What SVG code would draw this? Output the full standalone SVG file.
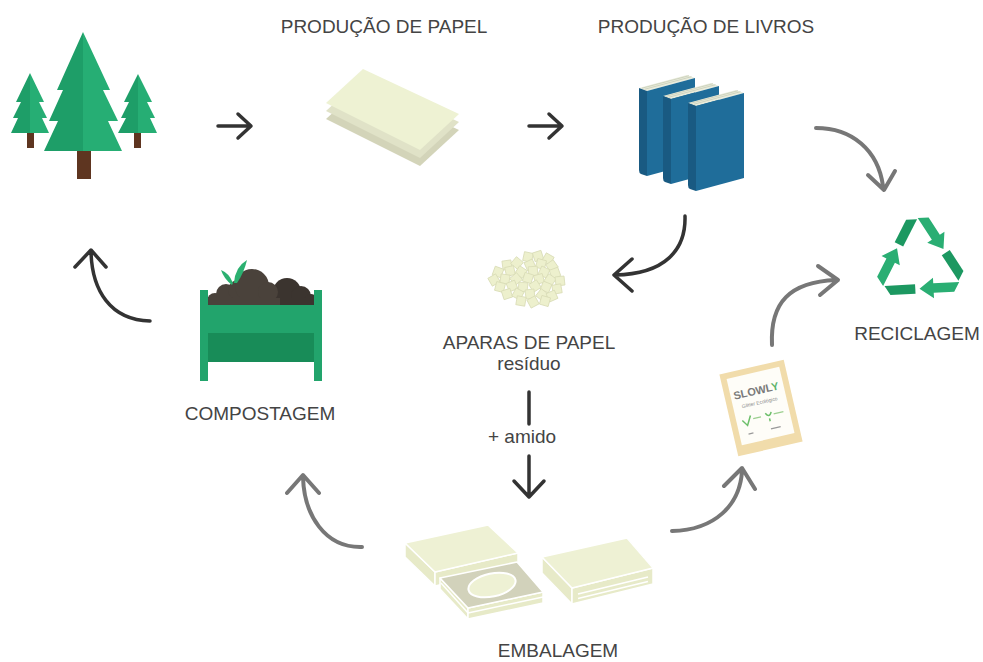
<svg xmlns="http://www.w3.org/2000/svg" xmlns:xlink="http://www.w3.org/1999/xlink" width="983" height="662" viewBox="0 0 983 662">
  <style>
    .lbl { font-family: "Liberation Sans", Arial, sans-serif; font-size: 19px; fill: #444; text-anchor: middle; }
    .arr-dark { fill: none; stroke: #333; stroke-width: 3.5; stroke-linecap: round; stroke-linejoin: round; }
    .arr-grey { fill: none; stroke: #777; stroke-width: 4; stroke-linecap: round; stroke-linejoin: round; }
    .tree-a { fill: #1e9e68; }
    .tree-b { fill: #26ae74; }
    .trunk { fill: #5e3520; }
    .chip { fill: #edf0cd; stroke: #d9dcb6; stroke-width: 0.8; }
    .box-top { fill: #eef1d4; stroke: #fff; stroke-width: 1.5; stroke-linejoin: round; }
    .box-side { fill: #e7eac8; stroke: #fff; stroke-width: 1.5; stroke-linejoin: round; }
    .rc-light { fill: #2aae73; }
    .rc-dark { fill: #1c9861; }
    .soil { fill: #4a423b; }
    .soil-d { fill: #3b342f; }
  </style>
  <defs>
    <!-- one standing book: top of spine at the origin -->
    <g id="book">
      <polygon points="0,0 48,-13 56,-10 8,3" fill="#e9ecdc"/>
      <line x1="3" y1="0.2" x2="50" y2="-12.3" stroke="#c8cdb8" stroke-width="0.8"/>
      <line x1="5.5" y1="1.3" x2="52.5" y2="-11.3" stroke="#c8cdb8" stroke-width="0.8"/>
      <path d="M0,0 L8,3 L8,88 L2,86 Q0,85 0,82 Z" fill="#195a82"/>
      <polygon points="8,3 56,-10 56,75 8,88" fill="#1f6d9a"/>
    </g>
    <!-- one folded arrow of the recycling sign, at the top corner -->
    <g id="rc-unit">
      <polygon class="rc-light" points="0,-44 10.97,-44 21.23,-26.23 25.99,-28.98 24.11,-11.73 8.24,-18.73 13,-21.48"/>
      <polygon class="rc-dark" points="-0.7,-42.8 -11.66,-42.8 -24.23,-21.04 -16,-16.29"/>
    </g>
    <rect id="chip" x="-4.5" y="-4.5" width="9" height="9" class="chip"/>
    <clipPath id="soil-clip">
      <rect x="207" y="250" width="107" height="56"/>
    </clipPath>
  </defs>

  <!-- forest -->
  <g id="forest">
    <rect class="trunk" x="77" y="150" width="14" height="29"/>
    <polygon class="tree-a" points="83,32 57,90 63,90 49,121 58,121 44,151 83,151"/>
    <polygon class="tree-b" points="83,32 110,90 103,90 118,121 108,121 122,151 83,151"/>
    <rect class="trunk" x="27" y="132" width="7" height="16"/>
    <polygon class="tree-a" points="30,73 16,102 21,102 13,118 18,118 11,133 30,133"/>
    <polygon class="tree-b" points="30,73 44,102 39,102 47,118 42,118 49,133 30,133"/>
    <rect class="trunk" x="134" y="132" width="7" height="16"/>
    <polygon class="tree-a" points="138,74 124,102 129,102 121,118 126,118 118,133 138,133"/>
    <polygon class="tree-b" points="138,74 152,102 147,102 155,118 150,118 157,133 138,133"/>
  </g>

  <!-- paper production -->
  <g id="paper">
    <text class="lbl" x="384" y="33">PRODUÇÃO DE PAPEL</text>
    <polygon points="326,119 363,85 459,130 420,166" fill="#d3d4b9"/>
    <polygon points="326,111 363,77 459,122 420,158" fill="#e0e2c7"/>
    <polygon points="326,103 363,69 459,114 420,150" fill="#eef2d3"/>
  </g>

  <!-- book production -->
  <g id="books">
    <text class="lbl" x="706" y="33">PRODUÇÃO DE LIVROS</text>
    <use xlink:href="#book" transform="translate(639,88)"/>
    <use xlink:href="#book" transform="translate(663,96)"/>
    <use xlink:href="#book" transform="translate(688,103)"/>
  </g>

  <!-- recycling -->
  <g id="recycling">
    <g transform="translate(920,262) rotate(-3)">
      <use xlink:href="#rc-unit"/>
      <use xlink:href="#rc-unit" transform="rotate(120)"/>
      <use xlink:href="#rc-unit" transform="rotate(240)"/>
    </g>
    <text class="lbl" x="917" y="340">RECICLAGEM</text>
  </g>

  <!-- paper trimmings -->
  <g id="trimmings">
    <use xlink:href="#chip" transform="translate(528,257) rotate(12)"/>
    <use xlink:href="#chip" transform="translate(538,256) rotate(-18)"/>
    <use xlink:href="#chip" transform="translate(548,259) rotate(30)"/>
    <use xlink:href="#chip" transform="translate(507,265) rotate(-8)"/>
    <use xlink:href="#chip" transform="translate(517,263) rotate(40)"/>
    <use xlink:href="#chip" transform="translate(530,265) rotate(-25)"/>
    <use xlink:href="#chip" transform="translate(541,264) rotate(15)"/>
    <use xlink:href="#chip" transform="translate(552,266) rotate(-35)"/>
    <use xlink:href="#chip" transform="translate(498,272) rotate(20)"/>
    <use xlink:href="#chip" transform="translate(510,271) rotate(-12)"/>
    <use xlink:href="#chip" transform="translate(521,272) rotate(33)"/>
    <use xlink:href="#chip" transform="translate(533,271) rotate(-4)"/>
    <use xlink:href="#chip" transform="translate(544,272) rotate(25)"/>
    <use xlink:href="#chip" transform="translate(555,273) rotate(-20)"/>
    <use xlink:href="#chip" transform="translate(494,280) rotate(-30)"/>
    <use xlink:href="#chip" transform="translate(505,279) rotate(8)"/>
    <use xlink:href="#chip" transform="translate(516,279) rotate(-40)"/>
    <use xlink:href="#chip" transform="translate(528,278) rotate(18)"/>
    <use xlink:href="#chip" transform="translate(539,279) rotate(-15)"/>
    <use xlink:href="#chip" transform="translate(550,280) rotate(35)"/>
    <use xlink:href="#chip" transform="translate(560,281) rotate(-6)"/>
    <use xlink:href="#chip" transform="translate(500,287) rotate(14)"/>
    <use xlink:href="#chip" transform="translate(512,286) rotate(-22)"/>
    <use xlink:href="#chip" transform="translate(523,287) rotate(5)"/>
    <use xlink:href="#chip" transform="translate(535,286) rotate(-33)"/>
    <use xlink:href="#chip" transform="translate(546,287) rotate(22)"/>
    <use xlink:href="#chip" transform="translate(557,289) rotate(-10)"/>
    <use xlink:href="#chip" transform="translate(507,294) rotate(-18)"/>
    <use xlink:href="#chip" transform="translate(518,294) rotate(28)"/>
    <use xlink:href="#chip" transform="translate(530,294) rotate(-7)"/>
    <use xlink:href="#chip" transform="translate(542,295) rotate(38)"/>
    <use xlink:href="#chip" transform="translate(552,296) rotate(-24)"/>
    <use xlink:href="#chip" transform="translate(521,301) rotate(10)"/>
    <use xlink:href="#chip" transform="translate(533,302) rotate(-28)"/>
    <use xlink:href="#chip" transform="translate(545,301) rotate(16)"/>
    <text class="lbl" x="529" y="349">APARAS DE PAPEL</text>
    <text class="lbl" x="529" y="370">resíduo</text>
  </g>

  <!-- compost bin -->
  <g id="compost">
    <g clip-path="url(#soil-clip)">
      <circle class="soil-d" cx="287" cy="292" r="14"/>
      <circle class="soil-d" cx="301" cy="296" r="10"/>
      <circle class="soil-d" cx="311" cy="301" r="7"/>
      <circle class="soil" cx="215" cy="301" r="8"/>
      <circle class="soil" cx="226" cy="294" r="10"/>
      <circle class="soil" cx="238" cy="290" r="10"/>
      <circle class="soil" cx="252" cy="286" r="17"/>
      <circle class="soil" cx="268" cy="292" r="10"/>
      <rect class="soil" x="207" y="298" width="75" height="8"/>
      <rect class="soil-d" x="280" y="298" width="34" height="8"/>
    </g>
    <path d="M234,283 Q235,267 247,260 Q244,273 237,283 Z" fill="#2bb070"/>
    <path d="M233,283 Q229,273 221,270 Q224,279 232,285 Z" fill="#2bb070"/>
    <rect x="207" y="305" width="107" height="28" fill="#22a46c"/>
    <rect x="207" y="333" width="107" height="29" fill="#188c58"/>
    <rect x="200" y="290" width="8" height="91" fill="#22a46c"/>
    <rect x="314" y="290" width="8" height="91" fill="#22a46c"/>
    <text class="lbl" x="260" y="420">COMPOSTAGEM</text>
  </g>

  <!-- glitter sachet -->
  <g id="sachet" transform="translate(761,408) rotate(-13)">
    <rect x="-33" y="-42" width="66" height="84" fill="#f1dcab"/>
    <rect x="-27" y="-36" width="54" height="68" fill="#fefdf8"/>
    <text x="-1" y="-14" font-family="'Liberation Sans', Arial, sans-serif" font-size="11" font-weight="bold" text-anchor="middle" fill="#7a7a7a">SLOWL<tspan fill="#5bb36a">Y</tspan></text>
    <text x="0" y="-4" font-family="'Liberation Sans', Arial, sans-serif" font-size="5" text-anchor="middle" fill="#8a8a8a">Glitter Ecológico</text>
    <path d="M-21,8 L-17,14 L-12,5" fill="none" stroke="#6cbf6a" stroke-width="1.5"/>
    <path d="M3,6 Q6,12 9,6 M6,12 L6,15" fill="none" stroke="#6cbf6a" stroke-width="1.5"/>
    <rect x="-10" y="8" width="8" height="1.2" fill="#9bcf8f"/>
    <rect x="11" y="8" width="10" height="1.2" fill="#9bcf8f"/>
    <rect x="-18" y="22" width="5" height="1.2" fill="#999"/>
    <rect x="5" y="22" width="10" height="1.2" fill="#999"/>
  </g>

  <!-- packaging -->
  <g id="packaging">
    <polygon class="box-side" points="405,543 435,572 435,586 405,557"/>
    <polygon class="box-side" points="435,572 518,553 518,567 435,586"/>
    <polygon class="box-top" points="405,543 488,525 518,553 435,572"/>
    <polygon class="box-side" points="440,578 468,608 468,619 440,589" fill="#e6e8c8"/>
    <polygon class="box-side" points="468,608 543,592 543,603 468,619" fill="#e6e8c8"/>
    <line x1="441" y1="583" x2="468" y2="613" stroke="#fff" stroke-width="1.5"/>
    <line x1="468" y1="613" x2="543" y2="597" stroke="#fff" stroke-width="1.5"/>
    <polygon points="440,578 517,562 543,592 468,608" fill="#d2d2bb" stroke="#fff" stroke-width="1.5" stroke-linejoin="round"/>
    <ellipse cx="492" cy="585" rx="24" ry="11.5" transform="rotate(-12 492 585)" fill="#eef1d4" stroke="#fff" stroke-width="2"/>

    <polygon class="box-side" points="542,557 572,588 572,604 542,573"/>
    <polygon class="box-side" points="572,588 653,568 653,584 572,604"/>
    <polygon class="box-top" points="542,557 627,538 653,568 572,588"/>
    <polyline points="578,594 648,577" fill="none" stroke="#fff" stroke-width="1.5"/>
    <polyline points="578,598.5 648,581.5" fill="none" stroke="#fff" stroke-width="1.5"/>
    <text class="lbl" x="558" y="657">EMBALAGEM</text>
  </g>

  <!-- connectors -->
  <g id="connectors">
    <path class="arr-dark" d="M218,126 L250,126 M238,114 L251,126 L238,138"/>
    <path class="arr-dark" d="M529,126 L561,126 M549,114 L562,126 L549,138"/>
    <path class="arr-grey" d="M816,128 C852,128 878,150 883,186 M868,175 L884,190 L895,171"/>
    <path class="arr-dark" d="M685,216 C686,250 665,274 615,275 M632,259 L614,275 L632,291"/>
    <path class="arr-dark" d="M529,392 L529,424 M529,456 L529,496 M514,481 L529,497 L544,481"/>
    <text class="lbl" x="522" y="443">+ amido</text>
    <path class="arr-grey" d="M772,345 C770,302 790,282 836,280 M818,266 L838,280 L820,295"/>
    <path class="arr-dark" d="M150,321 C110,320 92,290 91,252 M75,267 L91,250 L106,267"/>
    <path class="arr-grey" d="M362,547 C325,548 304,515 303,477 M287,493 L303,475 L319,493"/>
    <path class="arr-grey" d="M672,531 C715,530 740,505 742,471 M724,486 L742,468 L755,489"/>
  </g>
</svg>
